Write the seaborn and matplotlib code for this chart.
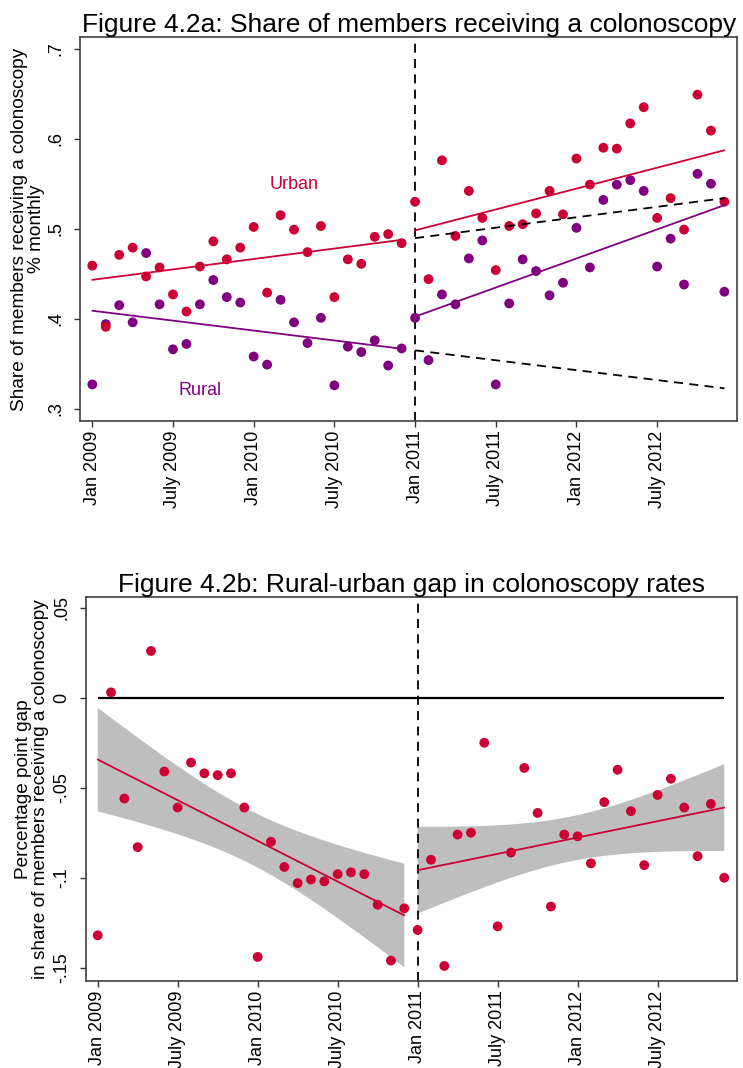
import numpy as np
import pandas as pd
import seaborn as sns
import matplotlib.pyplot as plt

# ---------------- data (monthly, Jan 2009 .. Dec 2012) ----------------
month_index = list(range(48))
tick_pos = [0, 6, 12, 18, 24, 30, 36, 42]
tick_labels = ["Jan 2009", "July 2009", "Jan 2010", "July 2010",
               "Jan 2011", "July 2011", "Jan 2012", "July 2012"]
policy_month = 24

urban = [0.459, 0.391, 0.471, 0.479, 0.447, 0.457, 0.427, 0.408, 0.458, 0.486, 0.466, 0.479,
         0.502, 0.429, 0.515, 0.499, 0.474, 0.503, 0.424, 0.466, 0.461, 0.491, 0.494, 0.484,
         0.530, 0.444, 0.576, 0.492, 0.542, 0.512, 0.454, 0.503, 0.505, 0.517, 0.542, 0.516,
         0.578, 0.549, 0.590, 0.589, 0.617, 0.635, 0.512, 0.534, 0.499, 0.649, 0.609, 0.530]
rural = [0.327, 0.394, 0.415, 0.396, 0.473, 0.416, 0.366, 0.372, 0.416, 0.443, 0.424, 0.418,
         0.358, 0.349, 0.421, 0.396, 0.373, 0.401, 0.326, 0.369, 0.363, 0.376, 0.348, 0.367,
         0.401, 0.354, 0.427, 0.416, 0.467, 0.487, 0.327, 0.417, 0.466, 0.453, 0.426, 0.440,
         0.501, 0.457, 0.532, 0.549, 0.554, 0.542, 0.458, 0.489, 0.438, 0.561, 0.550, 0.430]

RED = "#CC0033"
PURPLE = "#800080"
BAND = "#BEBEBE"
T_CRIT_22DF = 2.074  # 95% two-sided t quantile, 22 degrees of freedom

df = pd.DataFrame({"t": month_index, "urban": urban, "rural": rural})
df["gap"] = df["rural"] - df["urban"]
pre = df[df["t"] < policy_month]
post = df[df["t"] >= policy_month]

sns.set_style("ticks")
plt.rcParams["font.family"] = ["Liberation Sans", "DejaVu Sans"]
plt.rcParams["text.color"] = "black"
plt.rcParams["axes.labelcolor"] = "black"
plt.rcParams["xtick.color"] = "black"
plt.rcParams["ytick.color"] = "black"

W, H = 743, 1068
fig = plt.figure(figsize=(W / 100, H / 100), dpi=100)
ax1 = fig.add_axes([80 / W, 1 - 420.7 / H, (737.3 - 80) / W, (420.7 - 37.3) / H])
ax2 = fig.add_axes([85.7 / W, 1 - 980.7 / H, (737.3 - 85.7) / W, (980.7 - 597.3) / H])

# ---------------- panel a ----------------
sns.scatterplot(data=df, x="t", y="rural", color=PURPLE, s=50, edgecolor="none",
                ax=ax1, zorder=3, legend=False)
sns.scatterplot(data=df, x="t", y="urban", color=RED, s=50, edgecolor="none",
                ax=ax1, zorder=3, legend=False)
for d in (pre, post):
    sns.regplot(data=d, x="t", y="urban", ax=ax1, ci=None, scatter=False,
                color=RED, line_kws=dict(lw=1.3, zorder=4))
    sns.regplot(data=d, x="t", y="rural", ax=ax1, ci=None, scatter=False,
                color=PURPLE, line_kws=dict(lw=1.3, zorder=4))
# pre-period trends extrapolated into post period
for col in ("urban", "rural"):
    b, a = np.polyfit(pre["t"], pre[col], 1)
    ax1.plot(post["t"], a + b * post["t"], color="black", lw=1.3,
             ls=(0, (5, 3.5)), zorder=4)
ax1.axvline(policy_month, color="black", lw=1.3, ls=(0, (5, 3.5)), zorder=2)
ax1.text(15, 0.549, "Urban", color=RED, fontsize=13, ha="center", va="center")
ax1.text(8, 0.32, "Rural", color=PURPLE, fontsize=13, ha="center", va="center")

ax1.set_xlim(-0.915, 47.96)
ax1.set_ylim(0.2867, 0.7127)
ax1.set_yticks([0.3, 0.4, 0.5, 0.6, 0.7])
ax1.set_yticklabels([".3", ".4", ".5", ".6", ".7"], rotation=90, va="center")
ax1.set_ylabel("Share of members receiving a colonoscopy\n% monthly",
               fontsize=13.7, labelpad=2, linespacing=1.0)
ax1.set_title("Figure 4.2a: Share of members receiving a colonoscopy",
              fontsize=19, pad=4)

# ---------------- panel b ----------------
for d in (pre, post):
    x = d["t"].to_numpy(float)
    y = d["gap"].to_numpy(float)
    b, a = np.polyfit(x, y, 1)
    resid = y - (a + b * x)
    s = np.sqrt(np.sum(resid ** 2) / (len(x) - 2))
    grid = np.linspace(x.min(), x.max(), 100)
    se = s * np.sqrt(1 / len(x) + (grid - x.mean()) ** 2 / np.sum((x - x.mean()) ** 2))
    fit = a + b * grid
    ax2.fill_between(grid, fit - T_CRIT_22DF * se, fit + T_CRIT_22DF * se,
                     facecolor=BAND, edgecolor="none", zorder=1)
    sns.regplot(data=d, x="t", y="gap", ax=ax2, ci=None, scatter=False,
                color=RED, line_kws=dict(lw=1.3, zorder=4))
ax2.hlines(0, df["t"].min(), df["t"].max(), color="black", lw=1.6, zorder=2)
sns.scatterplot(data=df, x="t", y="gap", color=RED, s=50, edgecolor="none",
                ax=ax2, zorder=5, legend=False)
ax2.axvline(policy_month, color="black", lw=1.3, ls=(0, (5, 3.5)), zorder=2)

ax2.set_xlim(-0.9, 47.98)
ax2.set_ylim(-0.1572, 0.0558)
ax2.set_yticks([-0.15, -0.1, -0.05, 0, 0.05])
ax2.set_yticklabels(["-.15", "-.1", "-.05", "0", ".05"], rotation=90, va="center")
ax2.set_ylabel("Percentage point gap\nin share of members receiving a colonoscopy",
               fontsize=13.7, labelpad=3, linespacing=1.0)
ax2.set_title("Figure 4.2b: Rural-urban gap in colonoscopy rates",
              fontsize=19, pad=4)

for ax in (ax1, ax2):
    ax.set_xticks(tick_pos)
    ax.set_xticklabels(tick_labels, rotation=90, ha="center", va="top")
    ax.set_xlabel("")
    ax.tick_params(axis="both", labelsize=13, length=4, width=1,
                   color="#333333", labelcolor="black")
    ax.tick_params(axis="y", pad=7)
    ax.tick_params(axis="x", pad=3)
    for sp in ax.spines.values():
        sp.set_visible(True)
        sp.set_color("#404040")
        sp.set_linewidth(1.2)

fig.savefig("out.png", dpi=100, facecolor="white")
